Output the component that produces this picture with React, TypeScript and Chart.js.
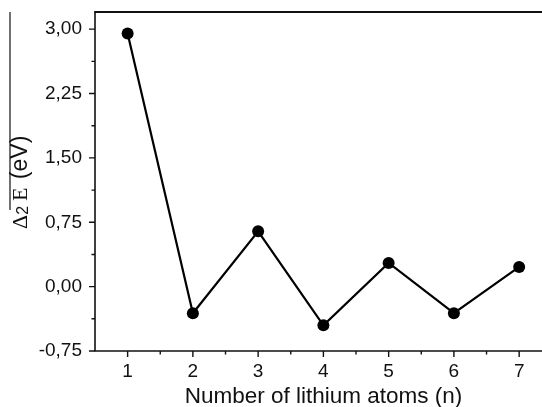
import { useEffect, useRef } from 'react';
import { Chart, registerables } from 'chart.js';

Chart.register(...registerables);

const atoms = [1, 2, 3, 4, 5, 6, 7];
const delta2E = [2.95, -0.31, 0.645, -0.45, 0.276, -0.31, 0.23];
const yMajorTicks = [-0.75, 0, 0.75, 1.5, 2.25, 3.0];
const yMinorTicks = [-0.375, 0.375, 1.125, 1.875, 2.625];
const xMajorTicks = [1, 2, 3, 4, 5, 6, 7];
const xMinorTicks = [1.5, 2.5, 3.5, 4.5, 5.5, 6.5];
const xTitle = 'Number of lithium atoms (n)';

const SANS = '"Liberation Sans", Arial, sans-serif';
const SERIF = '"Liberation Serif", "Times New Roman", serif';

const axesPlugin = {
  id: 'axesPlugin',
  afterDraw(chart: any) {
    const { ctx, chartArea, scales } = chart;
    const xs = scales.x;
    const ys = scales.y;
    ctx.save();
    ctx.strokeStyle = '#111';
    // frame
    ctx.lineWidth = 1.6;
    ctx.beginPath();
    ctx.moveTo(chartArea.left, chartArea.top);
    ctx.lineTo(chartArea.left, chartArea.bottom);
    ctx.lineTo(chart.width, chartArea.bottom);
    ctx.stroke();
    ctx.lineWidth = 2;
    ctx.beginPath();
    ctx.moveTo(chartArea.left - 0.8, chartArea.top);
    ctx.lineTo(chart.width, chartArea.top);
    ctx.stroke();
    // ticks
    ctx.lineWidth = 1.4;
    ctx.beginPath();
    yMajorTicks.forEach((v) => {
      const y = ys.getPixelForValue(v);
      ctx.moveTo(chartArea.left, y);
      ctx.lineTo(chartArea.left - 6, y);
    });
    yMinorTicks.forEach((v) => {
      const y = ys.getPixelForValue(v);
      ctx.moveTo(chartArea.left, y);
      ctx.lineTo(chartArea.left - 3.5, y);
    });
    xMajorTicks.forEach((v) => {
      const x = xs.getPixelForValue(v);
      ctx.moveTo(x, chartArea.bottom);
      ctx.lineTo(x, chartArea.bottom + 6);
    });
    xMinorTicks.forEach((v) => {
      const x = xs.getPixelForValue(v);
      ctx.moveTo(x, chartArea.bottom);
      ctx.lineTo(x, chartArea.bottom + 3.5);
    });
    ctx.stroke();

    // x title
    ctx.fillStyle = '#111';
    ctx.font = `22.5px ${SANS}`;
    ctx.textAlign = 'center';
    ctx.textBaseline = 'alphabetic';
    ctx.fillText(xTitle, (185 + 462) / 2, 403);

    // y title
    ctx.save();
    ctx.translate(27, 229);
    ctx.rotate(-Math.PI / 2);
    ctx.textAlign = 'left';
    let x = 0;
    ctx.font = `22px ${SERIF}`;
    ctx.fillText('\u0394', x, 0);
    x += ctx.measureText('\u0394').width;
    ctx.font = `16px ${SANS}`;
    ctx.fillText('2', x, 1);
    x += ctx.measureText('2').width + 5;
    ctx.font = `22px ${SERIF}`;
    ctx.fillText('E', x, 0);
    x += ctx.measureText('E').width + 2;
    ctx.font = `23px ${SANS}`;
    ctx.fillText(' (eV)', x, 0);
    ctx.restore();

    // overline
    ctx.lineWidth = 1.2;
    ctx.beginPath();
    ctx.moveTo(10, 12);
    ctx.lineTo(10, 210);
    ctx.stroke();
    ctx.restore();
  },
};

export default function App() {
  const ref = useRef<HTMLCanvasElement>(null);
  useEffect(() => {
    if (!ref.current) return;
    const chart = new Chart(ref.current, {
      type: 'scatter',
      data: {
        datasets: [
          {
            data: atoms.map((a, i) => ({ x: a, y: delta2E[i] })),
            showLine: true,
            borderColor: '#000',
            borderWidth: 2.2,
            backgroundColor: '#000',
            pointBackgroundColor: '#000',
            pointBorderColor: '#000',
            pointRadius: 6,
            pointBorderWidth: 0,
          },
        ],
      },
      plugins: [axesPlugin],
      options: {
        animation: false,
        responsive: true,
        maintainAspectRatio: false,
        layout: { autoPadding: false, padding: { left: 0, right: 0, top: 12, bottom: 0 } },
        plugins: { legend: { display: false }, tooltip: { enabled: false } },
        scales: {
          x: {
            type: 'linear',
            min: 0.5,
            max: 7.35,
            afterBuildTicks: (s: any) => {
              s.ticks = xMajorTicks.map((v) => ({ value: v }));
            },
            afterFit: (s: any) => {
              s.height = 56;
              s.paddingLeft = 0;
              s.paddingRight = 0;
            },
            grid: { display: false, drawTicks: false },
            border: { display: false },
            ticks: {
              color: '#111',
              font: { family: SANS, size: 19 },
              padding: 9,
              callback: (v: any) => String(v),
            },
          },
          y: {
            min: -0.75,
            max: 3.2,
            afterBuildTicks: (s: any) => {
              s.ticks = yMajorTicks.map((v) => ({ value: v }));
            },
            afterFit: (s: any) => {
              s.width = 95;
              s.paddingTop = 0;
              s.paddingBottom = 0;
            },
            grid: { display: false, drawTicks: false },
            border: { display: false },
            ticks: {
              color: '#111',
              font: { family: SANS, size: 19 },
              padding: 13,
              callback: (v: any) => Number(v).toFixed(2).replace('.', ','),
            },
          },
        },
      },
    });
    return () => chart.destroy();
  }, []);
  return (
    <div style={{ position: 'absolute', left: 0, top: 0, width: 542, height: 407 }}>
      <canvas ref={ref} />
    </div>
  );
}
